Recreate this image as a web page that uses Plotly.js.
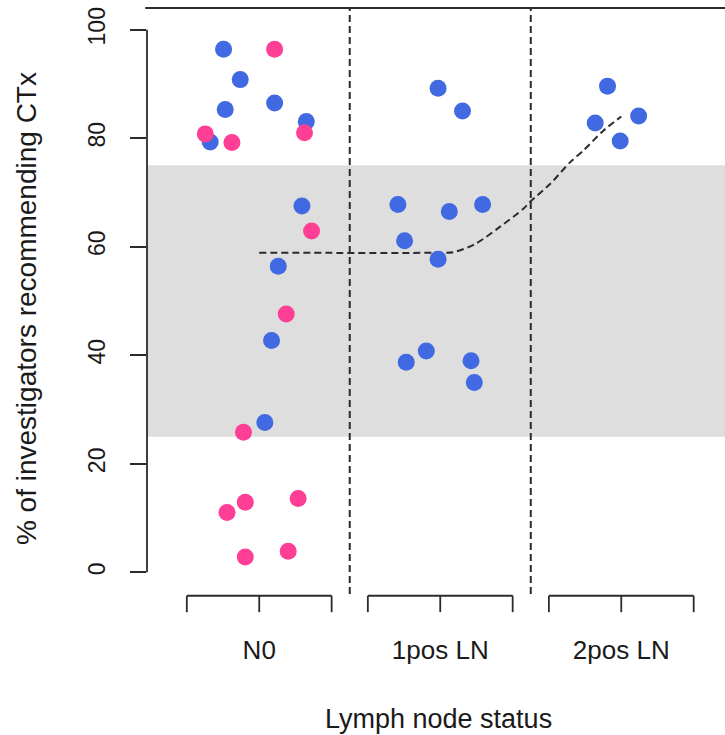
<!DOCTYPE html>
<html>
<head>
<meta charset="utf-8">
<script src="https://cdn.plot.ly/plotly-3.0.1.min.js"></script>
<style>
  html, body { margin: 0; padding: 0; background: #ffffff; }
  #chart { width: 725px; height: 735px; }
</style>
</head>
<body>
<div id="chart"></div>
<script>
// ---- data ----
const groups = ["N0", "1pos LN", "2pos LN"];
const groupPos = [1, 2, 3];
const yTicks = [0, 20, 40, 60, 80, 100];

// blue points (x = jittered group position, y = % recommending CTx)
const blueX = [0.803, 0.895, 0.812, 1.085, 1.260, 0.729, 1.236, 1.105, 1.068, 1.031,
               1.988, 2.123, 1.766, 2.050, 2.234, 1.803, 1.988, 1.923, 1.812, 2.170, 2.188,
               2.924, 3.096, 2.856, 2.994];
const blueY = [96.4, 90.8, 85.3, 86.5, 83.1, 79.3, 67.5, 56.4, 42.7, 27.6,
               89.2, 85.0, 67.8, 66.5, 67.8, 61.1, 57.7, 40.8, 38.7, 39.0, 35.0,
               89.6, 84.1, 82.8, 79.5];

// pink points
const pinkX = [1.085, 1.250, 0.702, 0.849, 1.289, 1.149, 0.913, 1.215, 0.923, 0.822, 1.160, 0.923];
const pinkY = [96.4, 81.0, 80.8, 79.2, 62.9, 47.6, 25.8, 13.6, 12.9, 11.0, 3.9, 2.8];

// dashed trend curve
const curveX = [1.0, 2.0, 2.072, 2.193, 2.331, 2.459, 2.497, 2.608, 2.718, 2.790, 2.901, 3.0];
const curveY = [58.9, 58.9, 59.0, 60.5, 63.7, 67.0, 68.3, 71.6, 75.6, 77.7, 81.4, 84.0];

// shaded band
const bandLow = 25;
const bandHigh = 75;

// ---- styling ----
const BLUE = "#4169E1";
const PINK = "#FF3E96";
const INK = "#2b2b2b";
const TXT = "#1a1a1a";
const FONT = "Liberation Sans, Arial, sans-serif";
const half = 0.4;           // bracket half-width
const dashStyle = "7px,4px";

const traces = [
  {
    x: curveX, y: curveY, type: "scatter", mode: "lines",
    line: { color: INK, width: 2, dash: "7px,4px", shape: "spline", smoothing: 0.8 },
    hoverinfo: "skip", showlegend: false
  },
  {
    x: blueX, y: blueY, type: "scatter", mode: "markers",
    marker: { color: BLUE, size: 17, line: { width: 0 } },
    showlegend: false
  },
  {
    x: pinkX, y: pinkY, type: "scatter", mode: "markers",
    marker: { color: PINK, size: 17, line: { width: 0 } },
    showlegend: false
  }
];

const shapes = [];
// grey band
shapes.push({ type: "rect", xref: "paper", yref: "y", x0: 0, x1: 1, y0: bandLow, y1: bandHigh,
              fillcolor: "#dedede", line: { width: 0 }, layer: "below" });
// separators between groups
for (let i = 0; i < groupPos.length - 1; i++) {
  const sx = (groupPos[i] + groupPos[i + 1]) / 2;
  shapes.push({ type: "line", xref: "x", yref: "paper", x0: sx, x1: sx, y0: 0, y1: 1,
                line: { color: INK, width: 2, dash: dashStyle }, layer: "below" });
}
// top line
shapes.push({ type: "line", xref: "paper", yref: "paper", x0: -0.003, x1: 1, y0: 1, y1: 1,
              line: { color: INK, width: 1.8 } });
// y axis line from 0 to 100
shapes.push({ type: "line", xref: "paper", yref: "y", x0: 0, x1: 0,
              y0: yTicks[0], y1: yTicks[yTicks.length - 1],
              line: { color: INK, width: 1.8 } });
// bracket axes for each group
const bTop = -0.003, bBot = -0.031;
groupPos.forEach(function (g) {
  shapes.push({ type: "line", xref: "x", yref: "paper", x0: g - half, x1: g + half, y0: bTop, y1: bTop,
                line: { color: INK, width: 1.8 } });
  [g - half, g, g + half].forEach(function (t) {
    shapes.push({ type: "line", xref: "x", yref: "paper", x0: t, x1: t, y0: bTop, y1: bBot,
                  line: { color: INK, width: 1.8 } });
  });
});

const layout = {
  width: 725, height: 735,
  margin: { l: 147, r: 0, t: 8, b: 141, pad: 0 },
  paper_bgcolor: "#ffffff", plot_bgcolor: "#ffffff",
  font: { family: FONT, color: TXT },
  showlegend: false,
  xaxis: {
    range: [0.38, 3.573], showgrid: false, zeroline: false, showline: false,
    tickvals: groupPos, ticktext: groups, ticks: "",
    tickfont: { size: 26, family: FONT, color: TXT },
    ticklabelstandoff: 38, fixedrange: true
  },
  yaxis: {
    range: [-4, 104], showgrid: false, zeroline: false, showline: false,
    tickvals: yTicks, ticktext: yTicks.map(String),
    ticks: "outside", ticklen: 16, tickwidth: 1.8, tickcolor: INK,
    tickangle: -90, tickfont: { size: 23, family: FONT, color: TXT },
    ticklabelstandoff: 16, fixedrange: true
  },
  shapes: shapes,
  annotations: [
    { text: "% of investigators recommending CTx", xref: "paper", yref: "paper",
      x: -0.2085, y: 0.487, xanchor: "center", yanchor: "middle", textangle: -90,
      showarrow: false, font: { size: 28, family: FONT, color: TXT } },
    { text: "Lymph node status", xref: "paper", yref: "paper",
      x: 0.5035, y: -0.213, xanchor: "center", yanchor: "middle",
      showarrow: false, font: { size: 27, family: FONT, color: TXT } }
  ]
};

Plotly.newPlot("chart", traces, layout, { displayModeBar: false, staticPlot: true });
</script>
</body>
</html>
